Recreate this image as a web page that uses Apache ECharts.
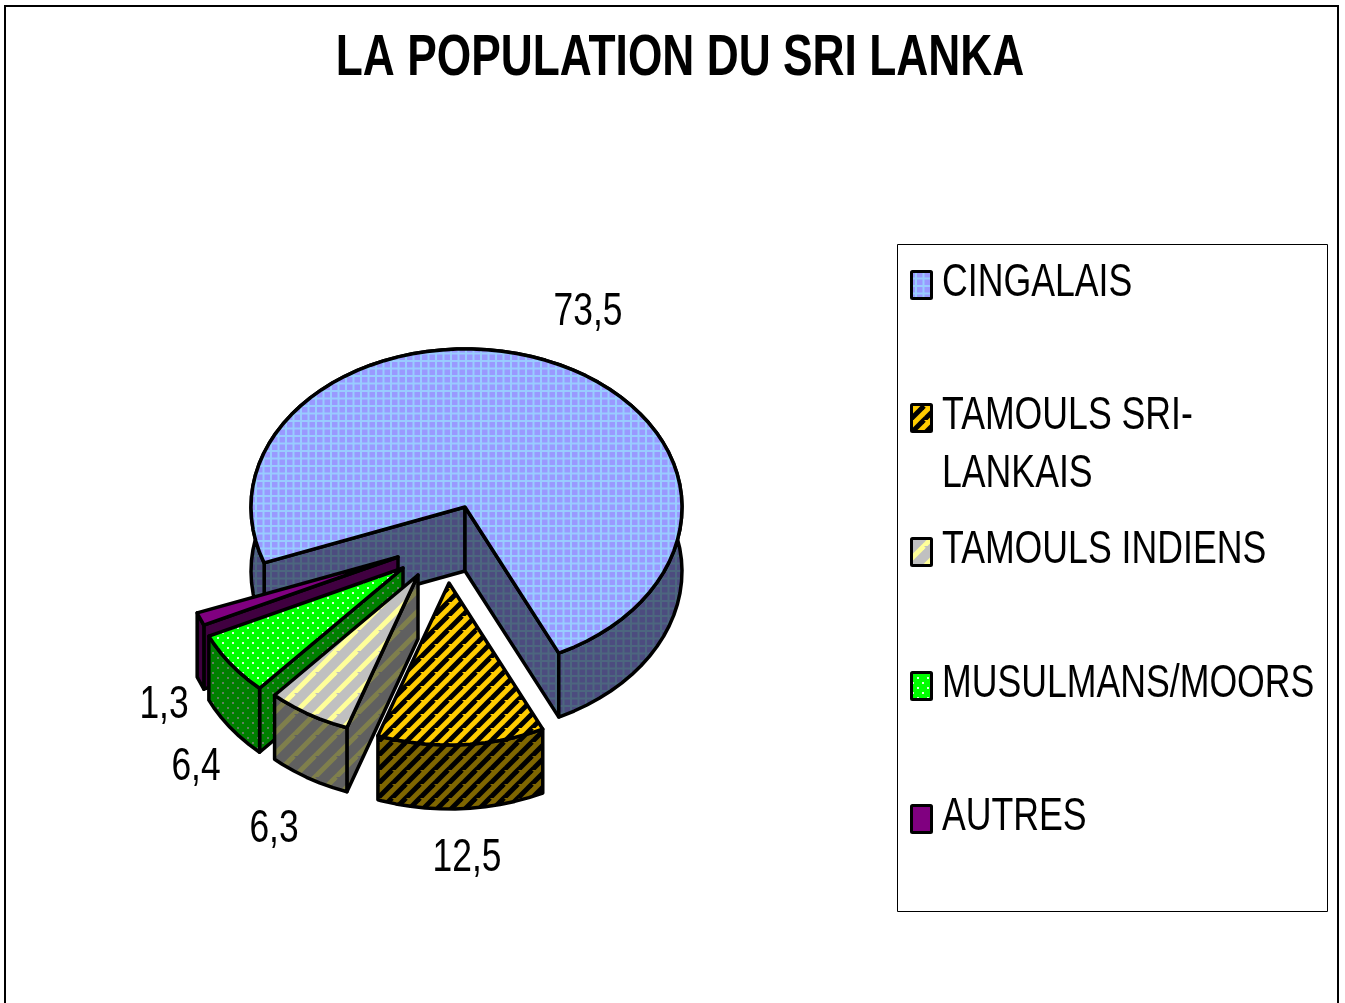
<!DOCTYPE html>
<html>
<head>
<meta charset="utf-8">
<title>La population du Sri Lanka</title>
<script src="https://cdn.jsdelivr.net/npm/echarts@6/dist/echarts.min.js"></script>
<style>
    html, body { margin: 0; padding: 0; background: #fff; }
    #main { width: 1345px; height: 1003px; }
</style>
</head>
<body>
<div id="main"></div>
<script>
var chartTitle = 'LA POPULATION DU SRI LANKA';
var categories = ['CINGALAIS', 'TAMOULS SRI-LANKAIS', 'TAMOULS INDIENS', 'MUSULMANS/MOORS', 'AUTRES'];
var values = [73.5, 12.5, 6.3, 6.4, 1.3];
var legendLabels = ['CINGALAIS', 'TAMOULS SRI-\nLANKAIS', 'TAMOULS INDIENS', 'MUSULMANS/MOORS', 'AUTRES'];

/* ------ pie geometry ------ */

var rxLeft = 214, rxRight = 217, ryBack = 158, ryFront = 162, depth = 64;
var firstAngle = 249.8;              // clockwise from the top of the pie
var apex = [[465, 507], [449, 583], [418, 575], [403, 568], [398, 557]];
var labelPos = [[588, 312], [467, 858], [274, 829], [196, 767], [164, 705]];
var drawRank = [0, 4, 3, 2, 1];      // back to front

/* ------ hatch fills ------ */

function tile(w, h, draw) {
    var c = document.createElement('canvas');
    c.width = w;
    c.height = h;
    draw(c.getContext('2d'), w, h);
    return { image: c, repeat: 'repeat' };
}

function gridFill(bg, line) {
    return tile(15, 15, function (g, w, h) {
        g.fillStyle = bg;
        g.fillRect(0, 0, w, h);
        g.fillStyle = line;
        g.fillRect(0, 0, w, 2);
        g.fillRect(0, 7.5, w, 2);
        g.fillRect(0, 0, 2, h);
        g.fillRect(7.5, 0, 2, h);
    });
}

function stripeFill(size, bg, line, width) {
    return tile(size, size, function (g, w, h) {
        g.fillStyle = bg;
        g.fillRect(0, 0, w, h);
        g.strokeStyle = line;
        g.lineWidth = width;
        for (var i = -1; i <= 2; i++) {
            g.beginPath();
            g.moveTo(i * w - w, h * 2);
            g.lineTo(i * w + w, 0);
            g.stroke();
        }
    });
}

function dotFill(bg, dot) {
    return tile(10, 10, function (g, w, h) {
        g.fillStyle = bg;
        g.fillRect(0, 0, w, h);
        g.fillStyle = dot;
        g.fillRect(2, 2, 2, 2);
        g.fillRect(7, 7, 2, 2);
    });
}

var topFills = [
    gridFill('#9999FF', '#99CCFF'),
    stripeFill(14, '#FFCC00', '#000000', 5),
    stripeFill(21, '#C0C0C0', '#FFFF99', 5),
    dotFill('#00FF00', '#D8FFD8'),
    '#800080'
];
var sideFills = [
    gridFill('#4C4C7F', '#4C667F'),
    stripeFill(14, '#7F6600', '#000000', 5),
    stripeFill(21, '#606060', '#7F7F4C', 5),
    dotFill('#008000', '#608060'),
    '#400040'
];

/* ------ slices ------ */

function rimPoint(c, angle, dy) {
    var a = angle * Math.PI / 180;
    var cos = Math.cos(a), sin = Math.sin(a);
    var ry = cos > 0 ? ryBack : ryFront;
    var rx = sin > 0 ? rxRight : rxLeft;
    return [c[0] + rx * sin, c[1] - ry * cos + dy];
}

function sliceAngles(index) {
    var total = 0, before = 0;
    for (var i = 0; i < values.length; i++) {
        total += values[i];
        if (i < index) before += values[i];
    }
    return [firstAngle + before / total * 360, firstAngle + (before + values[index]) / total * 360];
}

function renderSlice(params, api) {
    var i = params.dataIndex;
    var c = apex[i];
    var ang = sliceAngles(i);
    var z = drawRank[i] * 10;

    var top = [c], rimWall = [], rimBottom = [];
    for (var a = ang[0]; ; a += 4) {
        var d = a >= ang[1] ? ang[1] : a;
        top.push(rimPoint(c, d, 0));
        rimWall.push(rimPoint(c, d, 0));
        rimBottom.unshift(rimPoint(c, d, depth));
        if (a >= ang[1]) break;
    }

    function wall(angle) {
        return [c, rimPoint(c, angle, 0), rimPoint(c, angle, depth), [c[0], c[1] + depth]];
    }
    function face(points, fill, order) {
        return {
            type: 'polygon',
            z2: z + order,
            shape: { points: points },
            style: { fill: fill, stroke: '#000', lineWidth: 3.5, lineJoin: 'round' }
        };
    }

    var children = [];
    // a cut face only shows when it looks down towards the viewer
    if (Math.sin(ang[0] * Math.PI / 180) < 0) children.push(face(wall(ang[0]), sideFills[i], 0));
    if (Math.sin(ang[1] * Math.PI / 180) > 0) children.push(face(wall(ang[1]), sideFills[i], 0));
    children.push(face(rimWall.concat(rimBottom), sideFills[i], 1));
    children.push(face(top, topFills[i], 2));
    children.push({
        type: 'text',
        z2: 100,
        x: labelPos[i][0],
        y: labelPos[i][1],
        scaleX: 0.77,
        style: {
            text: String(api.value(0)).replace('.', ','),
            font: '46px "Liberation Sans"',
            fill: '#000',
            align: 'center',
            verticalAlign: 'middle'
        }
    });
    return { type: 'group', children: children };
}

/* ------ frame, title and legend ------ */

var legendTop = [271, 404, 538, 672, 805];
var graphicItems = [
    { type: 'rect', silent: true, shape: { x: 5, y: 6, width: 1333, height: 1100 }, style: { fill: 'none', stroke: '#000', lineWidth: 2 } },
    { type: 'rect', silent: true, shape: { x: 897.5, y: 244.5, width: 430, height: 667 }, style: { fill: '#fff', stroke: '#000', lineWidth: 1 } },
    {
        type: 'text',
        silent: true,
        x: 680,
        y: 59,
        scaleX: 0.764,
        style: {
            text: chartTitle,
            font: 'bold 58px "Liberation Sans"',
            fill: '#000',
            align: 'center',
            verticalAlign: 'middle'
        }
    }
];
legendLabels.forEach(function (label, i) {
    graphicItems.push({
        type: 'rect',
        silent: true,
        shape: { x: 911.5, y: legendTop[i] + 0.5, width: 20, height: 27, r: 1 },
        style: { fill: topFills[i], stroke: '#000', lineWidth: 3 }
    });
    graphicItems.push({
        type: 'text',
        silent: true,
        x: 942,
        y: legendTop[i] - 16.5,
        scaleX: 0.775,
        style: {
            text: label,
            font: '46px "Liberation Sans"',
            lineHeight: 58,
            fill: '#000',
            verticalAlign: 'top'
        }
    });
});

var chart = echarts.init(document.getElementById('main'));

var option = {
    animation: false,
    backgroundColor: '#fff',
    graphic: { elements: graphicItems },
    series: [
        {
            type: 'custom',
            coordinateSystem: 'none',
            renderItem: renderSlice,
            data: values.map(function (v, i) {
                return { name: categories[i], value: [v] };
            })
        }
    ]
};
chart.setOption(option);
</script>
</body>
</html>
